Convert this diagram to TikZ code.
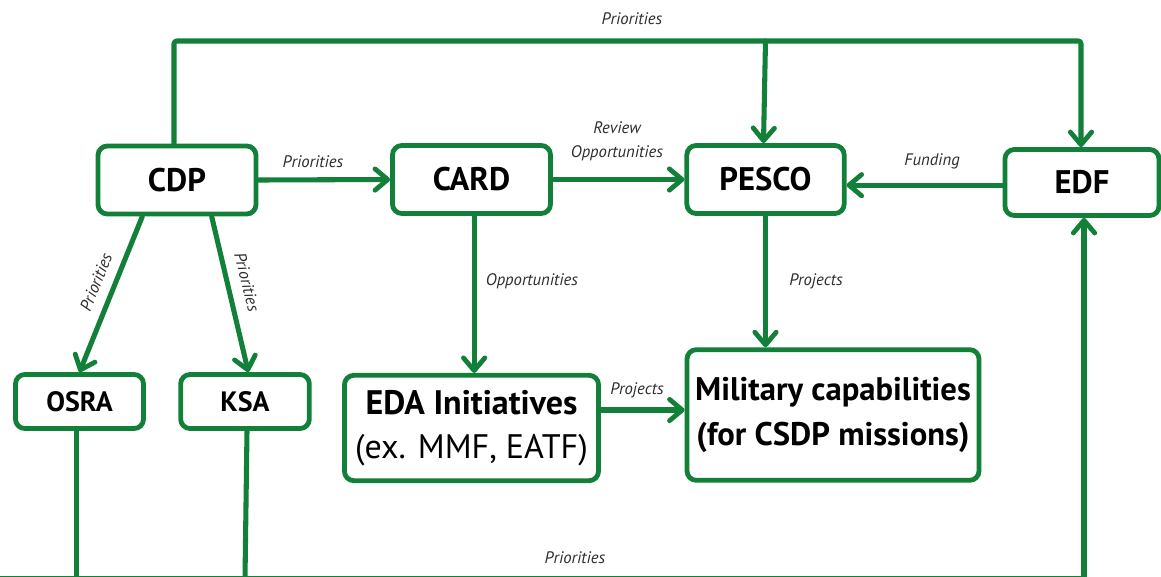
\documentclass[tikz,border=0pt]{standalone}
\usepackage{fontspec}
\setmainfont{PT Sans}
\usetikzlibrary{arrows.meta}
\definecolor{grn}{RGB}{18,128,56}
\definecolor{lbl}{RGB}{45,45,45}
\begin{document}
\begin{tikzpicture}[x=0.75pt,y=-0.75pt,
  box/.style={draw=grn,line width=3.6pt,rounded corners=7pt,fill=white,align=center,inner sep=0pt},
  big/.style={font=\fontsize{24.5}{34}\selectfont\bfseries},
  small/.style={font=\fontsize{21}{24}\selectfont\bfseries},
  conn/.style={draw=grn,line width=3.8pt,line cap=round,line join=round},
  arr/.style={conn,-{Straight Barb[length=9.5pt,width=16pt,line width=3.6pt,line cap=round,line join=round]}},
  lab/.style={font=\fontsize{12.5}{18}\selectfont\itshape,text=lbl,align=center,inner sep=1pt}]
\useasboundingbox (0,0) rectangle (1161,576);
% boxes
\node[box,big,minimum width=118.5pt,minimum height=51pt] (CDP) at (177,180) {CDP};
\node[box,big,minimum width=118.5pt,minimum height=51pt] (CARD) at (471.5,179.5) {CARD};
\node[box,big,minimum width=118pt,minimum height=51pt] (PESCO) at (765.5,179.5) {PESCO};
\node[box,big,minimum width=115.5pt,minimum height=49.5pt] (EDF) at (1082,182.5) {EDF};
\node[box,small,minimum width=96pt,minimum height=40.5pt] (OSRA) at (79.5,401.5) {OSRA};
\node[box,small,minimum width=96.5pt,minimum height=40.5pt] (KSA) at (245,401.5) {KSA};
\node[box,minimum width=190.5pt,minimum height=79pt,font=\fontsize{25.5}{34}\selectfont] (EDA) at (471.5,428) {\bfseries EDA Initiatives\\[-1pt](ex. MMF, EATF)};
\node[box,big,minimum width=219pt,minimum height=98pt] (MIL) at (833,415) {Military capabilities\\(for CSDP missions)};
% helper coordinates
\coordinate (top) at (0,41);
\coordinate (bot) at (0,578.4);
\coordinate (ym) at (0,410);
% top priorities line
\draw[arr,rounded corners=2pt] ([xshift=-2.25pt]CDP.north) |- ([xshift=-0.75pt]EDF.north |- top) -- ([xshift=-0.75pt]EDF.north);
\draw[arr] (PESCO.north |- top) -- ([xshift=-1.5pt]PESCO.north);
\node[lab] (t1) at (632,19) {Priorities};
% horizontal
\draw[arr] (CDP.east) -- (CARD.west);
\node[lab] (t2) at (313,162) {Priorities};
\draw[arr] (CARD.east) -- (PESCO.west);
\node[lab] (t3) at (617,141) {Review\\Opportunities};
\draw[arr] ([yshift=-2pt]EDF.west) -- ([yshift=-2pt]EDF.west -| PESCO.east);
\node[lab] (t4) at (932,161) {Funding};
% CDP down
\draw[arr] ([xshift=-26pt]CDP.south) -- (OSRA.north);
\draw[arr] ([xshift=26pt]CDP.south) -- ([xshift=2.5pt]KSA.north);
\node[lab,rotate=68] (t5) at (96,282) {Priorities};
\node[lab,rotate=-76] (t6) at (247,282) {Priorities};
% CARD, PESCO down
\draw[arr] ([xshift=2pt]CARD.south) -- ([xshift=2pt]EDA.north);
\node[lab] (t7) at (532,281) {Opportunities};
\draw[arr] (PESCO.south) -- (PESCO.south |- MIL.north);
\node[lab] (t8) at (816,281) {Projects};
\draw[arr] (EDA.east |- ym) -- (MIL.west |- ym);
\node[lab] (t9) at (637,390) {Projects};
% bottom loop
\draw[conn] ([xshift=-2.25pt]OSRA.south) |- (bot);
\draw[arr] (bot) -| ([xshift=1.5pt]EDF.south);
\draw[conn] ([xshift=1.5pt]KSA.south) -- (KSA.south |- bot);
\node[lab] (t10) at (575,558) {Priorities};
\end{tikzpicture}
\end{document}
